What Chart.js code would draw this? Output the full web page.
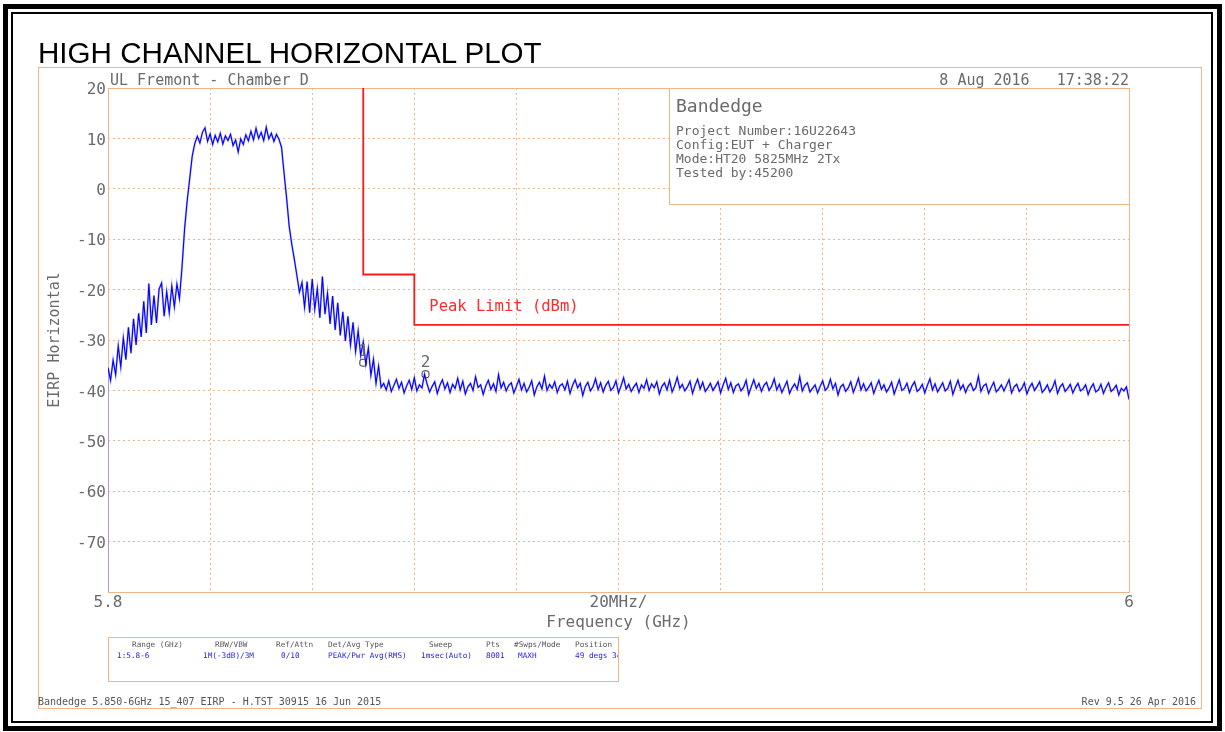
<!DOCTYPE html>
<html>
<head>
<meta charset="utf-8">
<title>High Channel Horizontal Plot</title>
<script src="https://cdn.jsdelivr.net/npm/chart.js@4.4.1/dist/chart.umd.min.js"></script>
<style>
  body { margin: 0; background: #fff; }
  #page { position: relative; width: 1225px; height: 732px; overflow: hidden; font-family: "DejaVu Sans Mono", monospace; color: #6a6a6a; }
  #page div { position: absolute; box-sizing: border-box; }
  #page span { position: absolute; line-height: 1; white-space: pre; }
  canvas { position: absolute; left: 0; top: 0; }
  .t { line-height: 1; white-space: pre; }
  #outer { left: 3px; top: 4px; width: 1219px; height: 727px; border: 5px solid #000; }
  #inner { left: 11px; top: 12px; width: 1202px; height: 711px; border: 2px solid #000; }
  #tan { left: 38px; top: 67px; width: 1164px; height: 642px; border: 1px solid #f0b68a; }
  #title { left: 38px; top: 36px; font: 29.6px "Liberation Sans", Arial, sans-serif; color: #000; }
  #site { left: 110px; top: 73px; font-size: 15px; }
  #stamp { right: 96px; top: 73px; font-size: 15px; }
  #note { left: 669px; top: 88px; width: 461px; height: 117px; border: 1px solid #f0b68a; background: #fff; }
  #note .big { left: 6px; top: 8px; font-size: 18px; }
  #note .sm { left: 6px; font-size: 13px; }
  #table { left: 108px; top: 637px; width: 511px; height: 45px; border: 1px solid #f0b68a; overflow: hidden; }
  #table span { font-size: 7.7px; }
  #table .h { top: 3px; color: #555; }
  #table .v { top: 14px; color: #2323e6; }
  #foot1 { left: 38px; top: 697px; font-size: 10px; color: #555; }
  #foot2 { right: 29px; top: 697px; font-size: 10px; color: #555; }
</style>
</head>
<body>
<div id="page">
  <div id="outer"></div>
  <div id="inner"></div>
  <div id="tan"></div>
  <canvas id="plot" width="1225" height="732"></canvas>
  <div id="title" class="t">HIGH CHANNEL HORIZONTAL PLOT</div>
  <div id="site" class="t">UL Fremont - Chamber D</div>
  <div id="stamp" class="t">8 Aug 2016   17:38:22</div>
  <div id="note">
    <span class="big">Bandedge</span>
    <span class="sm" style="top:35px">Project Number:16U22643</span>
    <span class="sm" style="top:49px">Config:EUT + Charger</span>
    <span class="sm" style="top:63px">Mode:HT20 5825MHz 2Tx</span>
    <span class="sm" style="top:77px">Tested by:45200</span>
  </div>
  <div id="table">
    <span class="h" style="left:23px">Range (GHz)</span>
    <span class="v" style="left:8px">1:5.8-6</span>
    <span class="h" style="left:106px">RBW/VBW</span>
    <span class="v" style="left:94px">1M(-3dB)/3M</span>
    <span class="h" style="left:167px">Ref/Attn</span>
    <span class="v" style="left:172px">0/10</span>
    <span class="h" style="left:219px">Det/Avg Type</span>
    <span class="v" style="left:219px">PEAK/Pwr Avg(RMS)</span>
    <span class="h" style="left:320px">Sweep</span>
    <span class="v" style="left:312px">1msec(Auto)</span>
    <span class="h" style="left:377px">Pts</span>
    <span class="v" style="left:377px">8001</span>
    <span class="h" style="left:405px">#Swps/Mode</span>
    <span class="v" style="left:409px">MAXH</span>
    <span class="h" style="left:466px">Position</span>
    <span class="v" style="left:466px">49 degs 34</span>
  </div>
  <div id="foot1" class="t">Bandedge 5.850-6GHz 15_407 EIRP - H.TST 30915 16 Jun 2015</div>
  <div id="foot2" class="t">Rev 9.5 26 Apr 2016</div>
</div>
<script>
// sweep: 5.8 - 6 GHz, one reading every 0.5 MHz (max hold)
const freqStartGHz = 5.8;
const freqStepGHz = 0.0005;
const sweepFloor = -80;

const traceLevel = [
  // 5.800 - 5.814 lower shoulder
  -35.5, -38.0, -34.0, -36.9, -31.2, -35.3, -29.6, -33.9, -27.5, -32.6,
  -25.8, -31.0, -24.7, -29.4, -22.3, -28.6, -18.8, -27.0, -21.2, -26.6,
  -19.9, -18.7, -25.3, -20.4, -24.6, -19.3, -23.4, -18.9, -21.8,
  // rising edge
  -15.5, -8.0, -2.5, 2.0, 6.5, 9.0,
  // channel top
  10.4, 9.1, 11.2, 12.1, 9.4, 10.9, 8.8, 10.6, 9.3, 11.0,
  8.9, 10.5, 9.6, 10.8, 8.6, 9.7, 7.3, 9.9, 8.8, 10.7,
  9.5, 11.4, 9.7, 12.0, 10.0, 11.2, 9.6, 12.2, 9.9, 11.0,
  9.4, 10.8, 9.8,
  // falling edge
  8.2, 3.0, -2.0, -7.5, -11.0, -14.0, -17.2, -20.5, -18.6,
  // upper shoulder
  -23.5, -18.4, -24.6, -17.9, -23.9, -19.8, -25.6, -17.4, -24.9, -20.7,
  -26.8, -21.3, -28.0, -22.6, -29.1, -24.4, -30.2, -25.3, -31.0, -26.5,
  -32.3, -28.2, -33.1, -30.4, -34.8, -31.6, -37.0, -33.8, -38.6, -35.2, -39.4,
  // noise floor 5.854 - 6.000
  -38.6, -39.9, -38.1, -40.2, -39.0, -37.8, -39.6, -38.4, -40.5, -39.1,
  -38.0, -39.8, -37.5, -40.1, -38.9, -39.5, -36.8, -38.7, -40.3, -39.2,
  -38.3, -40.6, -39.0, -37.9, -39.7, -38.5, -40.4, -38.8, -39.6, -37.6,
  -39.9, -38.2, -40.7, -39.3, -38.6, -40.0, -37.3, -39.4, -38.9, -40.8,
  -39.1, -38.0, -39.8, -38.7, -40.2, -36.9, -39.5, -38.4, -40.1, -39.0,
  -38.5, -40.5, -39.2, -37.8, -39.9, -38.6, -40.3, -39.4, -38.1, -40.9,
  -39.3, -38.4, -39.7, -37.2, -40.0, -38.8, -39.6, -38.3, -40.4, -39.1,
  -38.7, -39.9, -38.2, -40.6, -39.0, -37.9, -39.5, -38.6, -41.0, -39.2,
  -38.4, -40.1, -39.3, -37.7, -39.8, -38.5, -40.3, -39.0, -38.2, -40.0,
  -39.4, -38.1, -40.5, -39.1, -37.5, -39.7, -38.8, -40.2, -39.3, -38.6,
  -40.4, -38.9, -39.6, -37.9, -40.0, -38.7, -39.5, -38.3, -40.7, -39.2,
  -38.5, -39.9, -38.0, -40.3, -39.1, -37.4, -39.6, -38.8, -40.1, -39.3,
  -38.2, -40.6, -39.0, -37.8, -39.7, -38.4, -40.2, -39.5, -38.6, -40.0,
  -39.2, -38.3, -40.5, -38.9, -37.6, -39.8, -38.5, -40.4, -39.1, -38.7,
  -40.1, -39.4, -38.0, -40.8, -39.3, -37.9, -39.6, -38.6, -40.2, -39.0,
  -38.4, -40.0, -39.2, -37.7, -39.9, -38.8, -40.4, -39.3, -38.2, -40.6,
  -39.5, -38.7, -39.8, -37.3, -40.1, -39.0, -38.5, -40.3, -39.6, -38.9,
  -40.5, -39.2, -38.1, -40.0, -39.4, -37.8, -39.7, -38.6, -40.9, -39.3,
  -38.8, -40.2, -39.5, -38.3, -40.4, -39.1, -37.6, -39.9, -38.7, -40.1,
  -39.4, -38.5, -40.6, -39.2, -38.0, -39.8, -38.9, -40.3, -39.5, -38.4,
  -40.7, -39.3, -37.9, -40.0, -39.6, -38.6, -40.4, -39.1, -38.3, -40.2,
  -39.7, -38.8, -40.5, -39.0, -37.7, -39.9, -38.7, -40.3, -39.4, -38.5,
  -40.1, -39.6, -38.2, -40.8, -39.3, -38.0, -39.8, -38.9, -40.4, -39.2,
  -38.6, -40.0, -39.5, -37.2, -40.2, -39.1, -38.7, -40.6, -39.4, -38.4,
  -40.3, -39.7, -38.9, -40.1, -39.0, -37.9, -40.5, -39.3, -38.8, -40.2,
  -39.6, -38.5, -40.7, -39.4, -38.6, -40.0, -39.2, -38.3, -40.4, -39.8,
  -38.9, -40.3, -39.5, -38.1, -40.6, -39.3, -38.7, -40.2, -39.6, -38.8,
  -40.5, -39.4, -38.6, -40.1, -39.7, -38.9, -40.8, -39.5, -38.7, -40.3,
  -39.9, -38.8, -40.6, -39.4, -38.5, -40.2, -39.7, -39.0, -40.9, -39.6,
  -40.1, -39.3, -41.8
];

// peak limit (dBm)
const limitFreq = [5.85, 5.85, 5.86, 5.86, 6.0];
const limitLevel = [20, -17, -17, -27, -27];

// markers
const markerFreq = [5.8500, 5.8622];
const markerLevel = [-34.5, -36.8];
const markerName = ['1', '2'];

const xTickText = ['5.8', '', '', '', '', '20MHz/', '', '', '', '', '6'];

const tan = '#f0b68a';
const grey = '#6a6a6a';
const mono = '"DejaVu Sans Mono", monospace';

const tracePoints = traceLevel.map((v, i) => ({x: freqStartGHz + i * freqStepGHz, y: v}));
const limitPoints = limitFreq.map((f, i) => ({x: f, y: limitLevel[i]}));
const markerPoints = markerFreq.map((f, i) => ({x: f, y: markerLevel[i]}));

const overlay = {
  id: 'overlay',
  beforeDatasetsDraw(chart) {
    const {ctx, chartArea: a} = chart;
    ctx.save();
    ctx.strokeStyle = tan;
    ctx.lineWidth = 1;
    ctx.strokeRect(a.left + 0.5, a.top + 0.5, a.right - a.left, a.bottom - a.top);
    ctx.restore();
  },
  afterDatasetsDraw(chart) {
    const {ctx} = chart;
    const xs = chart.scales.x, ys = chart.scales.y;
    ctx.save();
    ctx.font = '16px ' + mono;
    ctx.fillStyle = grey;
    ctx.textAlign = 'center';
    ctx.textBaseline = 'alphabetic';
    markerFreq.forEach((f, i) => {
      ctx.fillText(markerName[i], xs.getPixelForValue(f), ys.getPixelForValue(markerLevel[i]) - 7);
    });
    ctx.fillStyle = '#ff2a2a';
    ctx.font = '15.5px ' + mono;
    ctx.textAlign = 'left';
    ctx.textBaseline = 'middle';
    ctx.fillText('Peak Limit (dBm)', xs.getPixelForValue(limitFreq[2]) + 15, ys.getPixelForValue(limitLevel[3]) - 18);
    ctx.restore();
  }
};

new Chart(document.getElementById('plot'), {
  type: 'line',
  data: {
    datasets: [
      {
        data: markerPoints, showLine: false, pointStyle: 'rectRounded', pointRadius: 4,
        borderColor: '#333', backgroundColor: 'rgba(0,0,0,0)', borderWidth: 1, order: 0
      },
      {
        data: limitPoints, borderColor: '#ff1a1a', borderWidth: 1.8, pointRadius: 0, order: 1
      },
      {
        data: tracePoints, borderColor: '#0000ff', borderWidth: 1.1, pointRadius: 0, order: 2
      },
      {
        // soft edge of the trace, same readings
        data: tracePoints, borderColor: 'rgba(110,110,255,0.5)', borderWidth: 2, pointRadius: 0, order: 3
      },
      {
        data: [{x: freqStartGHz, y: sweepFloor}, {x: freqStartGHz, y: traceLevel[0]}],
        borderColor: '#7a7aff', borderWidth: 1, pointRadius: 0, order: 4
      }
    ]
  },
  options: {
    responsive: false,
    animation: false,
    layout: {padding: {left: 0, top: 88, right: 96, bottom: 100}},
    plugins: {legend: {display: false}, tooltip: {enabled: false}},
    scales: {
      x: {
        type: 'linear', min: 5.8, max: 6,
        grid: {color: tan, lineWidth: 1, drawTicks: false},
        border: {display: false, dash: [2, 3]},
        ticks: {
          stepSize: 0.02, autoSkip: false, maxRotation: 0, padding: 1,
          color: grey, font: {family: mono, size: 16},
          callback: (v, i) => xTickText[i]
        },
        title: {display: true, text: 'Frequency (GHz)', color: grey, font: {family: mono, size: 16}, padding: {top: 0, bottom: 0}},
        afterFit(s) { s.height = 40; }
      },
      y: {
        min: -80, max: 20,
        grid: {color: tan, lineWidth: 1, drawTicks: false},
        border: {display: false, dash: [2, 3]},
        ticks: {
          stepSize: 10, padding: 2, labelOffset: 2, color: grey, font: {family: mono, size: 16},
          callback: v => (v === -80 ? '' : String(v))
        },
        title: {display: true, text: 'EIRP Horizontal', color: grey, font: {family: mono, size: 15}, padding: {top: 46, bottom: 0}},
        afterFit(s) { s.width = 108; }
      }
    }
  },
  plugins: [overlay]
});
</script>
</body>
</html>
